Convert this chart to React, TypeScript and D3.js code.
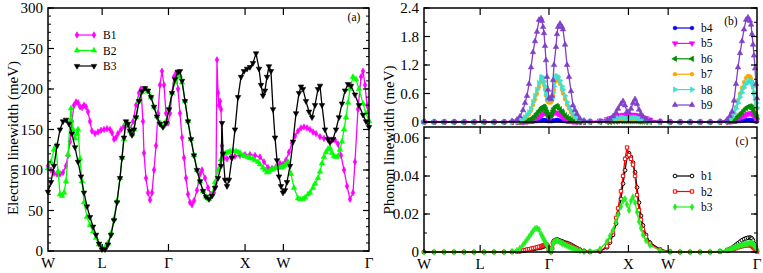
import React from "react";
import * as d3 from "d3";

const FONT = "'Liberation Serif','Times New Roman',serif";

// high-symmetry path W-L-Γ-X-W-Γ (2π/a units)
const kTicks = [0, 0.707, 1.573, 2.573, 3.073, 4.191];
const kLabels = ["W", "L", "Γ", "X", "W", "Γ"];

type Pt = [number, number];

// (a) electron linewidth (meV)
const elecB1: Pt[] = [[0,105],[0.039,100],[0.078,96],[0.118,95],[0.157,95],[0.196,97],[0.235,105],[0.261,118],[0.287,135],[0.313,160],[0.339,180],[0.366,184],[0.392,183],[0.418,178],[0.444,177],[0.470,180],[0.496,178],[0.522,172],[0.548,160],[0.574,148],[0.614,145],[0.653,147],[0.692,149],[0.731,150],[0.770,151],[0.809,150],[0.836,146],[0.862,138],[0.888,140],[0.914,145],[0.953,150],[0.992,154],[1.031,155],[1.071,150],[1.110,160],[1.149,180],[1.188,195],[1.214,200],[1.240,160],[1.253,121],[1.279,90],[1.306,72],[1.332,63],[1.358,72],[1.384,100],[1.410,130],[1.436,170],[1.462,205],[1.488,222],[1.514,205],[1.541,170],[1.567,158],[1.593,170],[1.619,195],[1.645,215],[1.671,220],[1.697,200],[1.723,170],[1.750,140],[1.776,115],[1.802,90],[1.828,70],[1.854,60],[1.880,57],[1.906,62],[1.945,75],[1.985,95],[2.011,100],[2.050,90],[2.089,78],[2.128,70],[2.167,72],[2.193,80],[2.206,236],[2.220,195],[2.233,180],[2.246,185],[2.259,175],[2.272,130],[2.298,115],[2.337,114],[2.389,116],[2.441,117],[2.507,118],[2.572,119],[2.637,119],[2.703,118],[2.768,116],[2.820,110],[2.872,103],[2.925,102],[2.977,104],[3.029,108],[3.068,107],[3.107,112],[3.146,122],[3.186,133],[3.225,142],[3.264,148],[3.303,152],[3.342,153],[3.382,152],[3.421,150],[3.460,147],[3.499,145],[3.551,141],[3.603,139],[3.656,138],[3.708,137],[3.747,137],[3.786,132],[3.825,118],[3.865,100],[3.904,80],[3.943,64],[3.982,72],[4.008,110],[4.047,175],[4.087,215],[4.113,222],[4.139,205],[4.165,180],[4.191,160]];

const elecB2: Pt[] = [[0,102],[0.039,110],[0.078,125],[0.104,130],[0.131,98],[0.157,70],[0.183,68],[0.209,72],[0.235,86],[0.261,119],[0.287,160],[0.300,176],[0.326,150],[0.353,139],[0.379,145],[0.392,150],[0.418,114],[0.444,86],[0.470,60],[0.509,42],[0.548,32],[0.588,24],[0.627,16],[0.666,8],[0.705,4],[0.744,4],[0.783,10],[0.823,22],[0.862,40],[0.901,62],[0.940,90],[0.966,115],[0.992,138],[1.018,158],[1.044,156],[1.071,148],[1.097,144],[1.123,150],[1.149,165],[1.188,185],[1.227,196],[1.266,200],[1.306,197],[1.345,190],[1.384,178],[1.423,166],[1.462,158],[1.501,154],[1.541,160],[1.580,176],[1.619,195],[1.658,208],[1.697,215],[1.723,216],[1.750,208],[1.789,185],[1.828,160],[1.867,138],[1.906,118],[1.945,100],[1.985,86],[2.024,74],[2.063,67],[2.102,64],[2.141,70],[2.180,85],[2.220,100],[2.259,113],[2.298,120],[2.324,121],[2.350,122],[2.376,123],[2.415,124],[2.454,123],[2.481,122],[2.507,121],[2.546,118],[2.572,117],[2.611,116],[2.637,115],[2.676,114],[2.703,112],[2.742,110],[2.768,107],[2.807,103],[2.833,100],[2.859,97],[2.885,98],[2.911,100],[2.938,101],[2.977,103],[3.003,103],[3.042,103],[3.068,104],[3.094,106],[3.133,110],[3.173,95],[3.212,78],[3.264,65],[3.290,64],[3.329,64],[3.355,66],[3.395,70],[3.421,72],[3.460,78],[3.486,83],[3.525,90],[3.551,98],[3.577,108],[3.603,116],[3.630,122],[3.656,126],[3.682,127],[3.708,121],[3.734,117],[3.760,116],[3.786,117],[3.812,125],[3.838,135],[3.865,150],[3.891,165],[3.917,183],[3.943,200],[3.982,215],[4.021,212],[4.060,200],[4.113,182],[4.152,170],[4.191,160]];

const elecB3: Pt[] = [[0,73],[0.039,85],[0.078,105],[0.118,130],[0.157,150],[0.196,160],[0.235,162],[0.274,157],[0.313,145],[0.353,128],[0.392,110],[0.431,92],[0.470,72],[0.509,55],[0.548,42],[0.588,30],[0.627,20],[0.666,9],[0.705,2],[0.744,2],[0.783,8],[0.823,20],[0.862,38],[0.901,60],[0.940,90],[0.966,115],[0.992,140],[1.018,160],[1.044,157],[1.071,148],[1.097,143],[1.123,150],[1.149,165],[1.188,185],[1.227,197],[1.266,201],[1.306,198],[1.345,190],[1.384,178],[1.423,166],[1.462,157],[1.501,153],[1.541,158],[1.580,175],[1.619,195],[1.658,212],[1.697,221],[1.723,222],[1.750,210],[1.789,185],[1.828,160],[1.867,138],[1.906,118],[1.945,100],[1.985,86],[2.024,74],[2.063,67],[2.102,64],[2.141,68],[2.180,78],[2.220,90],[2.259,105],[2.272,158],[2.285,120],[2.311,88],[2.337,80],[2.363,88],[2.402,115],[2.441,150],[2.481,190],[2.520,215],[2.559,222],[2.598,225],[2.637,227],[2.676,232],[2.716,244],[2.755,225],[2.781,205],[2.807,192],[2.833,198],[2.859,215],[2.885,228],[2.911,222],[2.938,175],[2.964,140],[2.990,112],[3.016,92],[3.042,80],[3.068,72],[3.094,75],[3.120,85],[3.160,105],[3.199,135],[3.238,170],[3.277,195],[3.303,203],[3.329,200],[3.368,185],[3.408,172],[3.447,165],[3.486,180],[3.525,200],[3.551,204],[3.577,180],[3.616,150],[3.656,138],[3.682,134],[3.721,138],[3.760,150],[3.799,165],[3.838,182],[3.878,198],[3.917,206],[3.956,204],[4.008,193],[4.060,180],[4.113,168],[4.152,160],[4.191,153]];

// (b), (c) phonon linewidth (meV), common k grid
const kPhonon = [0,0.126,0.252,0.378,0.503,0.629,0.755,0.881,1.007,1.108,1.170,1.208,1.246,1.271,1.296,1.322,1.347,1.372,1.397,1.422,1.447,1.473,1.485,1.498,1.510,1.523,1.535,1.548,1.561,1.573,1.598,1.611,1.624,1.636,1.661,1.674,1.687,1.712,1.737,1.749,1.775,1.800,1.825,1.850,1.875,1.900,1.926,1.963,2.014,2.089,2.215,2.303,2.341,2.379,2.417,2.442,2.479,2.505,2.530,2.555,2.580,2.605,2.630,2.656,2.681,2.706,2.731,2.756,2.794,2.844,2.970,3.096,3.222,3.348,3.474,3.600,3.725,3.814,3.851,3.877,3.902,3.927,3.952,3.977,4.002,4.028,4.053,4.078,4.103,4.116,4.128,4.141,4.153,4.166,4.179,4.191];

const phB4 = [0,0,0,0,0,0,0,0,0,0, 0,0,0,0,0,0.01,0.01,0.01,0.02,0.02, 0.03,0.03,0.04,0.04,0.04,0.04,0.03,0.03,0.02,0.02, 0.02,0.02,0.03,0.03,0.04,0.04,0.04,0.03,0.03,0.02, 0.02,0.01,0.01,0.01,0,0,0,0,0,0, 0,0.01,0.01,0.02,0.03,0.04,0.05,0.05,0.05,0.05, 0.05,0.05,0.05,0.05,0.04,0.03,0.02,0.02,0.01,0.01, 0,0,0,0,0,0,0,0,0,0.01, 0.01,0.01,0.02,0.02,0.03,0.03,0.04,0.04,0.04,0.04, 0.03,0.03,0.02,0.02,0.01,0.01];
const phB5 = [0,0,0,0,0,0,0,0,0,0, 0,0,0,0.01,0.01,0.02,0.03,0.04,0.06,0.08, 0.1,0.13,0.15,0.17,0.19,0.2,0.19,0.16,0.12,0.08, 0.1,0.14,0.18,0.2,0.2,0.19,0.17,0.14,0.11,0.09, 0.07,0.05,0.03,0.02,0.01,0.01,0,0,0,0.01, 0.03,0.06,0.08,0.1,0.12,0.13,0.14,0.15,0.15,0.15, 0.15,0.15,0.15,0.15,0.14,0.13,0.12,0.1,0.08,0.05, 0.01,0,0,0,0,0,0,0,0.01,0.02, 0.03,0.05,0.07,0.09,0.11,0.13,0.15,0.17,0.18,0.18, 0.17,0.15,0.12,0.09,0.06,0.04];
const phB6 = [0,0,0,0,0,0,0,0,0,0, 0,0,0.01,0.02,0.03,0.04,0.06,0.09,0.13,0.18, 0.23,0.27,0.3,0.32,0.32,0.3,0.26,0.2,0.15,0.12, 0.14,0.18,0.24,0.29,0.33,0.33,0.31,0.27,0.22,0.19, 0.14,0.1,0.07,0.05,0.03,0.02,0.01,0,0,0, 0,0,0,0.01,0.01,0.02,0.02,0.02,0.02,0.02, 0.02,0.02,0.02,0.02,0.02,0.01,0.01,0.01,0,0, 0,0,0,0,0,0,0,0.01,0.02,0.03, 0.05,0.08,0.12,0.16,0.2,0.25,0.29,0.32,0.33,0.32, 0.3,0.27,0.23,0.18,0.14,0.1];
const phB7 = [0,0,0,0,0,0,0,0,0,0, 0,0.02,0.05,0.08,0.12,0.17,0.24,0.36,0.48,0.6, 0.74,0.85,0.88,0.86,0.78,0.68,0.56,0.46,0.42,0.41, 0.41,0.45,0.56,0.68,0.86,0.9,0.88,0.8,0.68,0.6, 0.48,0.36,0.28,0.2,0.14,0.1,0.06,0.03,0.01,0, 0,0.01,0.02,0.03,0.04,0.05,0.05,0.05,0.04,0.04, 0.04,0.04,0.05,0.05,0.05,0.04,0.03,0.02,0.01,0, 0,0,0,0,0,0,0,0.02,0.05,0.1, 0.2,0.32,0.46,0.6,0.72,0.84,0.93,0.97,0.96,0.92, 0.85,0.74,0.6,0.48,0.38,0.28];
const phB8 = [0,0,0,0,0,0,0,0,0,0, 0.01,0.03,0.06,0.1,0.15,0.2,0.28,0.42,0.55,0.68, 0.82,0.93,0.95,0.93,0.85,0.75,0.62,0.52,0.48,0.47, 0.47,0.5,0.62,0.75,0.95,0.97,0.95,0.87,0.75,0.68, 0.55,0.42,0.33,0.25,0.17,0.12,0.08,0.04,0.02,0.01, 0.01,0.02,0.04,0.06,0.07,0.08,0.09,0.09,0.08,0.07, 0.07,0.08,0.09,0.09,0.08,0.07,0.06,0.04,0.03,0.01, 0,0,0,0,0,0,0,0.02,0.05,0.1, 0.18,0.28,0.4,0.52,0.62,0.72,0.8,0.85,0.87,0.86, 0.82,0.75,0.62,0.5,0.4,0.3];
const phB9 = [0,0,0,0,0,0,0,0,0,0.02, 0.05,0.12,0.25,0.4,0.55,0.8,1.15,1.47,1.7,1.9, 2.15,2.18,2.13,2.0,1.87,1.6,1.3,0.95,0.68,0.5, 0.48,0.55,0.88,1.2,1.58,1.85,2.0,2.07,2.0,1.95, 1.63,1.2,0.95,0.65,0.35,0.25,0.17,0.07,0.03,0.01, 0.01,0.03,0.06,0.12,0.2,0.28,0.38,0.44,0.35,0.22, 0.2,0.28,0.4,0.48,0.38,0.26,0.17,0.11,0.06,0.03, 0.01,0,0,0,0,0,0.01,0.05,0.13,0.22, 0.45,0.8,1.15,1.45,1.7,1.95,2.15,2.2,2.13,2.05, 1.85,1.63,1.4,1.13,0.8,0.5];

const phB1 = [0,0,0,0,0,0,0,0,0,0.0001, 0.0002,0.0004,0.0006,0.0008,0.001,0.0012,0.0014,0.0016,0.0018,0.002, 0.0022,0.0024,0.0026,0.0028,0.003,0.0032,0.0034,0.0033,0.0026,0.001, 0,0.002,0.0048,0.006,0.0065,0.0066,0.0064,0.006,0.0056,0.0053, 0.005,0.0047,0.0043,0.0038,0.0032,0.0026,0.002,0.0013,0.0006,0.0002, 0.0004,0.0025,0.005,0.009,0.015,0.02,0.028,0.036,0.043,0.05, 0.052,0.05,0.047,0.042,0.034,0.026,0.019,0.014,0.009,0.005, 0.0014,0.0002,0,0,0,0,0.0003,0.001,0.0016,0.0022, 0.003,0.0038,0.0046,0.0054,0.0062,0.0068,0.0072,0.0075,0.0076,0.0074, 0.007,0.006,0.0045,0.003,0.0015,0.0005];
const phB2 = [0,0,0,0,0,0,0,0,0,0.0001, 0.0003,0.0005,0.0008,0.001,0.0013,0.0015,0.0017,0.002,0.0022,0.0025, 0.0028,0.003,0.0032,0.0034,0.0036,0.0038,0.004,0.0038,0.003,0.001, 0,0.002,0.0045,0.0055,0.006,0.006,0.0058,0.0055,0.005,0.0047, 0.0043,0.004,0.0036,0.003,0.0025,0.002,0.0016,0.001,0.0004,0.0001, 0.0004,0.003,0.006,0.0105,0.018,0.023,0.032,0.04,0.049,0.055, 0.051,0.049,0.046,0.04,0.03,0.022,0.017,0.012,0.008,0.0045, 0.0012,0.0002,0,0,0,0,0.0002,0.0006,0.001,0.0013, 0.0016,0.002,0.0024,0.0027,0.003,0.0032,0.0034,0.0035,0.0035,0.0034, 0.003,0.0025,0.002,0.0012,0.0006,0.0002];
const phB3 = [0,0,0,0,0,0,0,0,0,0.0003, 0.0008,0.002,0.0037,0.005,0.0065,0.008,0.0095,0.011,0.0123,0.0125, 0.0118,0.0095,0.0085,0.0075,0.0065,0.0055,0.0045,0.0035,0.0025,0.001, 0.0003,0.002,0.0045,0.0055,0.006,0.006,0.0058,0.0052,0.0046,0.0043, 0.0038,0.0033,0.0028,0.0023,0.0019,0.0015,0.0011,0.0007,0.0003,0.0002, 0.0016,0.0055,0.0085,0.0115,0.016,0.0195,0.024,0.027,0.028,0.025, 0.022,0.027,0.029,0.026,0.021,0.016,0.0125,0.009,0.006,0.0035, 0.0008,0.0001,0,0,0,0,0.0004,0.001,0.0015,0.0019, 0.0023,0.0027,0.003,0.0034,0.0037,0.004,0.0043,0.0045,0.0047,0.0047, 0.0046,0.0043,0.0038,0.003,0.002,0.001];

type Sym = "circle" | "square" | "diamond" | "triUp" | "triDown" | "triLeft" | "triRight";

interface SeriesDef {
  name: string;
  color: string;
  sym: Sym;
  open?: boolean;
  pts: Pt[];
}

const zip = (vals: number[]): Pt[] => kPhonon.map((k, i) => [k, vals[i] ?? 0] as Pt);

function symbolPath(sym: Sym): { d: string; rot: number } {
  const gen = d3.symbol();
  switch (sym) {
    case "circle": return { d: gen.type(d3.symbolCircle).size(11)() as string, rot: 0 };
    case "square": return { d: gen.type(d3.symbolSquare).size(11)() as string, rot: 0 };
    case "diamond": return { d: gen.type(d3.symbolDiamond).size(12)() as string, rot: 0 };
    case "triUp": return { d: gen.type(d3.symbolTriangle).size(13)() as string, rot: 0 };
    case "triDown": return { d: gen.type(d3.symbolTriangle).size(13)() as string, rot: 180 };
    case "triLeft": return { d: gen.type(d3.symbolTriangle).size(13)() as string, rot: -90 };
    default: return { d: gen.type(d3.symbolTriangle).size(13)() as string, rot: 90 };
  }
}

function Series({ s, xs, ys }: { s: SeriesDef; xs: d3.ScaleLinear<number, number>; ys: d3.ScaleLinear<number, number> }) {
  const line = d3.line<Pt>().x(d => xs(d[0])).y(d => ys(d[1]));
  const m = symbolPath(s.sym);
  return (
    <g>
      <path d={line(s.pts) || ""} fill="none" stroke={s.color} strokeWidth={1.3} />
      {s.pts.map((p, i) => (
        <path key={i} d={m.d}
          transform={`translate(${xs(p[0]).toFixed(2)},${ys(p[1]).toFixed(2)}) rotate(${m.rot})`}
          fill={s.open ? "white" : s.color} stroke={s.color} strokeWidth={s.open ? 1 : 0.6} />
      ))}
    </g>
  );
}

function Legend({ items, x, y0, dy }: { items: SeriesDef[]; x: number; y0: number; dy: number }) {
  return (
    <g>
      {items.map((s, i) => {
        const y = y0 + i * dy;
        const m = symbolPath(s.sym);
        return (
          <g key={s.name}>
            <line x1={x} x2={x + 17} y1={y} y2={y} stroke={s.color} strokeWidth={1.2} />
            {[x, x + 17].map(px => (
              <path key={px} d={m.d} transform={`translate(${px},${y}) rotate(${m.rot})`}
                fill={s.open ? "white" : s.color} stroke={s.color} strokeWidth={s.open ? 1 : 0.6} />
            ))}
            <text x={x + 26} y={y + 4} fontSize={11.5} fontFamily={FONT}>{s.name}</text>
          </g>
        );
      })}
    </g>
  );
}

function Frame({ xs, ys, yMajor, yMinor, fmt, xLabels }: {
  xs: d3.ScaleLinear<number, number>; ys: d3.ScaleLinear<number, number>;
  yMajor: number[]; yMinor: number[]; fmt: (v: number) => string; xLabels: boolean;
}) {
  const [x0, x1] = xs.range();
  const [yb, yt] = ys.range();
  return (
    <g>
      {yMinor.map(v => (
        <g key={"mn" + v}>
          <line x1={x0} x2={x0 + 3} y1={ys(v)} y2={ys(v)} stroke="black" />
          <line x1={x1} x2={x1 - 3} y1={ys(v)} y2={ys(v)} stroke="black" />
        </g>
      ))}
      {yMajor.map(v => (
        <g key={"mj" + v}>
          <line x1={x0} x2={x0 + 6} y1={ys(v)} y2={ys(v)} stroke="black" strokeWidth={1.2} />
          <line x1={x1} x2={x1 - 6} y1={ys(v)} y2={ys(v)} stroke="black" strokeWidth={1.2} />
          <text x={x0 - 5} y={ys(v)} dy="0.35em" textAnchor="end" fontSize={15} fontFamily={FONT}>{fmt(v)}</text>
        </g>
      ))}
      {kTicks.slice(1, -1).map((k, i) => (
        <g key={"k" + i}>
          <line x1={xs(k)} x2={xs(k)} y1={yt} y2={yt + 7} stroke="black" strokeWidth={1.2} />
          <line x1={xs(k)} x2={xs(k)} y1={yb} y2={yb - 7} stroke="black" strokeWidth={1.2} />
        </g>
      ))}
      {xLabels && kTicks.map((k, i) => (
        <text key={"kl" + i} x={xs(k)} y={yb + 17} textAnchor="middle" fontSize={15} fontFamily={FONT}>{kLabels[i]}</text>
      ))}
      <rect x={x0} y={yt} width={x1 - x0} height={yb - yt} fill="none" stroke="black" strokeWidth={1.5} />
    </g>
  );
}

export default function App() {
  const xA = d3.scaleLinear().domain([0, 4.191]).range([48, 369]);
  const yA = d3.scaleLinear().domain([0, 300]).range([251, 8]);
  const xR = d3.scaleLinear().domain([0, 4.191]).range([424, 757]);
  const yB = d3.scaleLinear().domain([0, 2.4]).range([122, 8]);
  const yC = d3.scaleLinear().domain([0, 0.0658]).range([252, 127]);

  const seriesA: SeriesDef[] = [
    { name: "B1", color: "#ff00ff", sym: "diamond", pts: elecB1 },
    { name: "B2", color: "#00ff00", sym: "triUp", pts: elecB2 },
    { name: "B3", color: "#000000", sym: "triDown", pts: elecB3 },
  ];
  const seriesB: SeriesDef[] = [
    { name: "b4", color: "#0000ff", sym: "circle", pts: zip(phB4) },
    { name: "b5", color: "#ff00ff", sym: "triDown", pts: zip(phB5) },
    { name: "b6", color: "#008b00", sym: "triLeft", pts: zip(phB6) },
    { name: "b7", color: "#ffa500", sym: "circle", pts: zip(phB7) },
    { name: "b8", color: "#40e0d0", sym: "triRight", pts: zip(phB8) },
    { name: "b9", color: "#8040c8", sym: "triUp", pts: zip(phB9) },
  ];
  const seriesC: SeriesDef[] = [
    { name: "b1", color: "#000000", sym: "circle", open: true, pts: zip(phB1) },
    { name: "b2", color: "#ff0000", sym: "square", open: true, pts: zip(phB2) },
    { name: "b3", color: "#22ee22", sym: "diamond", pts: zip(phB3) },
  ];

  const range = (a: number, b: number, s: number) => d3.range(a, b + s / 2, s).map(v => +v.toFixed(4));

  return (
    <svg width={763} height={273} style={{ position: "absolute", left: 0, top: 0, background: "white" }}>
      <rect width={763} height={273} fill="white" />
      {/* (a) */}
      {seriesA.map(s => <Series key={s.name} s={s} xs={xA} ys={yA} />)}
      <Frame xs={xA} ys={yA} yMajor={range(0, 300, 50)} yMinor={range(0, 300, 10)} fmt={v => String(v)} xLabels={false} />
      {kTicks.map((k, i) => (
        <text key={i} x={xA(k)} y={268} textAnchor="middle" fontSize={15} fontFamily={FONT}>{kLabels[i]}</text>
      ))}
      <Legend items={seriesA} x={77} y0={35} dy={15.5} />
      <text x={354} y={21} textAnchor="middle" fontSize={11.5} fontFamily={FONT}>(a)</text>
      <text transform="translate(18,138) rotate(-90)" textAnchor="middle" fontSize={15} fontFamily={FONT}>Electron linewidth (meV)</text>

      {/* (b) */}
      {seriesB.map(s => <Series key={s.name} s={s} xs={xR} ys={yB} />)}
      <Frame xs={xR} ys={yB} yMajor={[0, 0.6, 1.2, 1.8, 2.4]} yMinor={range(0, 2.4, 0.3)} fmt={v => (v === 0 ? "0" : v.toFixed(1))} xLabels={false} />
      <Legend items={seriesB} x={675} y0={28} dy={15.4} />
      <text x={731} y={25} textAnchor="middle" fontSize={11.5} fontFamily={FONT}>(b)</text>

      {/* (c) */}
      {seriesC.map(s => <Series key={s.name} s={s} xs={xR} ys={yC} />)}
      <Frame xs={xR} ys={yC} yMajor={[0, 0.02, 0.04, 0.06]} yMinor={range(0, 0.06, 0.01)} fmt={v => (v === 0 ? "0" : v.toFixed(2))} xLabels={true} />
      <Legend items={seriesC} x={675} y0={176} dy={15.5} />
      <text x={742} y={145} textAnchor="middle" fontSize={11.5} fontFamily={FONT}>(c)</text>
      <text transform="translate(394,140) rotate(-90)" textAnchor="middle" fontSize={15} fontFamily={FONT}>Phonon linewidth (meV)</text>
    </svg>
  );
}
